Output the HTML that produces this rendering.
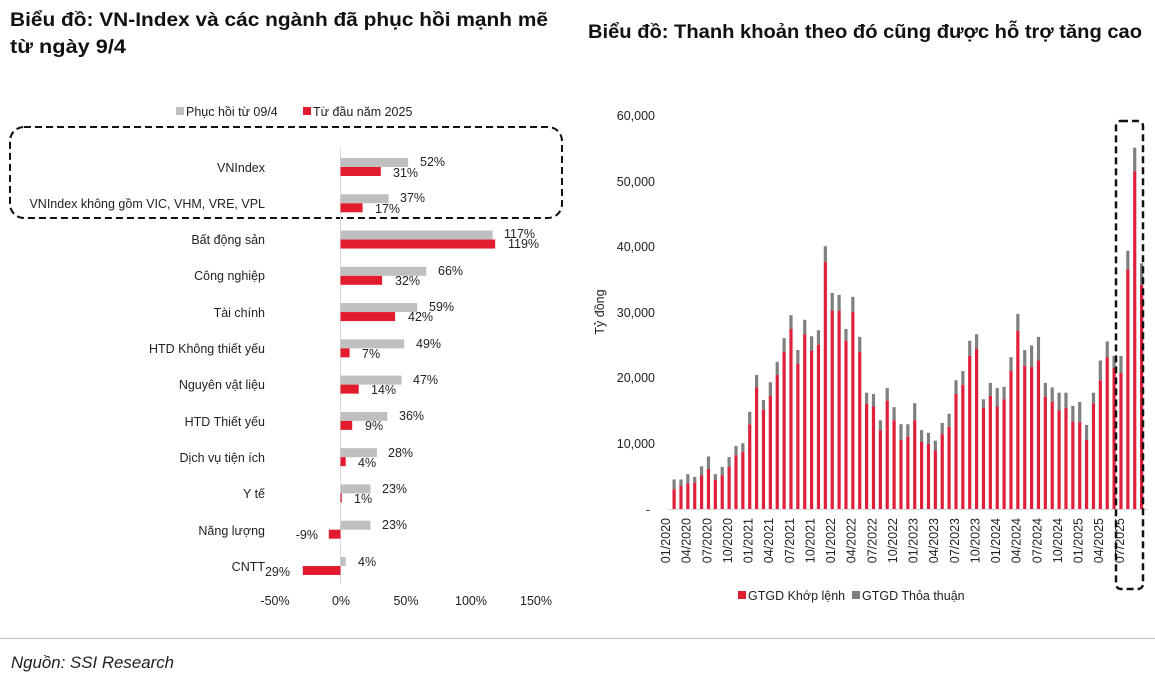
<!DOCTYPE html>
<html><head><meta charset="utf-8"><style>
body{margin:0;background:#fff;}
svg{display:block;font-family:"Liberation Sans",sans-serif;}
</style></head><body>
<svg id="s" width="1155" height="680" viewBox="0 0 1155 680" xmlns="http://www.w3.org/2000/svg">
<rect width="1155" height="680" fill="#fff"/>
<g font-weight="bold" font-size="19" fill="#111">
<text x="10" y="26" textLength="538" lengthAdjust="spacingAndGlyphs">Biểu đồ: VN-Index và các ngành đã phục hồi mạnh mẽ</text>
<text x="10" y="53" textLength="116" lengthAdjust="spacingAndGlyphs">từ ngày 9/4</text>
<text x="588" y="38" textLength="554" lengthAdjust="spacingAndGlyphs">Biểu đồ: Thanh khoản theo đó cũng được hỗ trợ tăng cao</text>
</g>
<!-- left legend -->
<rect x="176" y="107" width="8" height="8" fill="#bfbfbf"/>
<text x="186" y="116" font-size="12.5" fill="#222">Phục hồi từ 09/4</text>
<rect x="303" y="107" width="8" height="8" fill="#e31b2e"/>
<text x="313" y="116" font-size="12.5" fill="#222">Từ đầu năm 2025</text>
<rect x="10" y="127" width="552" height="91" rx="14" fill="none" stroke="#111" stroke-width="2" stroke-dasharray="7,4"/>
<line x1="340.5" y1="148" x2="340.5" y2="584" stroke="#d9d9d9" stroke-width="1"/>
<g id="left"></g>
<g font-size="12.5" fill="#222" text-anchor="end">
<text x="265" y="172">VNIndex</text>
<text x="265" y="208">VNIndex không gồm VIC, VHM, VRE, VPL</text>
<text x="265" y="244">Bất động sản</text>
<text x="265" y="280">Công nghiệp</text>
<text x="265" y="317">Tài chính</text>
<text x="265" y="353">HTD Không thiết yếu</text>
<text x="265" y="389">Nguyên vật liệu</text>
<text x="265" y="426">HTD Thiết yếu</text>
<text x="265" y="462">Dịch vụ tiện ích</text>
<text x="265" y="498">Y tế</text>
<text x="265" y="535">Năng lượng</text>
<text x="265" y="571">CNTT</text>
</g>
<g font-size="12.5" fill="#222">
<text x="420" y="166">52%</text><text x="393" y="177">31%</text>
<text x="400" y="202">37%</text><text x="375" y="213">17%</text>
<text x="504" y="238">117%</text><text x="508" y="248">119%</text>
<text x="438" y="275">66%</text><text x="395" y="285">32%</text>
<text x="429" y="311">59%</text><text x="408" y="321">42%</text>
<text x="416" y="348">49%</text><text x="362" y="358">7%</text>
<text x="413" y="384">47%</text><text x="371" y="394">14%</text>
<text x="399" y="420">36%</text><text x="365" y="430">9%</text>
<text x="388" y="457">28%</text><text x="358" y="467">4%</text>
<text x="382" y="493">23%</text><text x="354" y="503">1%</text>
<text x="382" y="529">23%</text>
<text x="318" y="539" text-anchor="end">-9%</text>
<text x="358" y="566">4%</text>
<text x="290" y="576" text-anchor="end">29%</text>
</g>
<g font-size="12.5" fill="#222" text-anchor="middle">
<text x="275" y="605">-50%</text><text x="341" y="605">0%</text><text x="406" y="605">50%</text><text x="471" y="605">100%</text><text x="536" y="605">150%</text>
</g>
<!-- right chart -->
<g font-size="12.5" fill="#222" text-anchor="end">
<text x="655" y="120">60,000</text><text x="655" y="186">50,000</text><text x="655" y="251">40,000</text><text x="655" y="317">30,000</text><text x="655" y="382">20,000</text><text x="655" y="448">10,000</text><text x="650" y="514">-</text>
</g>
<text transform="translate(604,312) rotate(-90)" font-size="12.5" fill="#222" text-anchor="middle">Tỷ đồng</text>
<line x1="668" y1="509.5" x2="1148" y2="509.5" stroke="#d9d9d9"/>
<g id="right"></g>
<g id="xl" font-size="12.5" fill="#222" text-anchor="end">
<text transform="translate(670,518) rotate(-90)">01/2020</text>
<text transform="translate(690.6,518) rotate(-90)">04/2020</text>
<text transform="translate(711.3,518) rotate(-90)">07/2020</text>
<text transform="translate(731.9,518) rotate(-90)">10/2020</text>
<text transform="translate(752.5,518) rotate(-90)">01/2021</text>
<text transform="translate(773.1,518) rotate(-90)">04/2021</text>
<text transform="translate(793.8,518) rotate(-90)">07/2021</text>
<text transform="translate(814.4,518) rotate(-90)">10/2021</text>
<text transform="translate(835,518) rotate(-90)">01/2022</text>
<text transform="translate(855.6,518) rotate(-90)">04/2022</text>
<text transform="translate(876.3,518) rotate(-90)">07/2022</text>
<text transform="translate(896.9,518) rotate(-90)">10/2022</text>
<text transform="translate(917.5,518) rotate(-90)">01/2023</text>
<text transform="translate(938.1,518) rotate(-90)">04/2023</text>
<text transform="translate(958.8,518) rotate(-90)">07/2023</text>
<text transform="translate(979.4,518) rotate(-90)">10/2023</text>
<text transform="translate(1000,518) rotate(-90)">01/2024</text>
<text transform="translate(1020.6,518) rotate(-90)">04/2024</text>
<text transform="translate(1041.3,518) rotate(-90)">07/2024</text>
<text transform="translate(1061.9,518) rotate(-90)">10/2024</text>
<text transform="translate(1082.5,518) rotate(-90)">01/2025</text>
<text transform="translate(1103.1,518) rotate(-90)">04/2025</text>
<text transform="translate(1123.8,518) rotate(-90)">07/2025</text>
</g>
<rect x="1116" y="121" width="27" height="468" rx="5" fill="none" stroke="#111" stroke-width="2.5" stroke-dasharray="7,4"/>
<rect x="738" y="591" width="8" height="8" fill="#e31b2e"/>
<text x="748" y="600" font-size="12.5" fill="#222">GTGD Khớp lệnh</text>
<rect x="852" y="591" width="8" height="8" fill="#7f7f7f"/>
<text x="862" y="600" font-size="12.5" fill="#222">GTGD Thỏa thuận</text>
<line x1="0" y1="638.5" x2="1155" y2="638.5" stroke="#bfbfbf"/>
<text x="11" y="668" font-size="17" font-style="italic" fill="#222" textLength="163" lengthAdjust="spacingAndGlyphs">Nguồn: SSI Research</text>
</svg>
<script>
var NS="http://www.w3.org/2000/svg";
function R(g,x,y,w,h,c){var r=document.createElementNS(NS,"rect");r.setAttribute("x",x);r.setAttribute("y",y);r.setAttribute("width",w);r.setAttribute("height",h);r.setAttribute("fill",c);g.appendChild(r);}
var L=document.getElementById("left");
var d=[[52,31],[37,17],[117,119],[66,32],[59,42],[49,7],[47,14],[36,9],[28,4],[23,1],[23,-9],[4,-29]];
d.forEach(function(v,i){var c=167+i*36.27;
 var g=v[0]*1.3,r=v[1]*1.3;
 R(L,g>=0?340.5:340.5+g,c-9,Math.abs(g),9,"#bfbfbf");
 R(L,r>=0?340.5:340.5+r,c,Math.abs(r),9,"#e31b2e");});
var T=[4.5,4.5,5.3,4.9,6.5,8.0,5.3,6.4,7.9,9.6,10.0,14.8,20.4,16.6,19.3,22.4,26.0,29.5,24.2,28.8,26.3,27.2,40.0,32.9,32.6,27.4,32.3,26.2,17.7,17.5,13.5,18.4,15.5,12.9,12.9,16.1,12.0,11.6,10.4,13.1,14.5,19.6,21.0,25.6,26.6,16.7,19.2,18.4,18.6,23.1,29.7,24.2,24.9,26.2,19.2,18.5,17.7,17.7,15.7,16.3,12.8,17.7,22.6,25.5,23.3,23.3,39.3,55.0,37.4];
var K=[3.0,3.5,3.9,4.0,5.1,6.1,4.4,5.1,6.4,8.2,8.7,12.9,18.5,15.1,17.2,20.4,23.9,27.4,22.1,26.6,24.1,25.0,37.6,30.2,30.2,25.6,30.0,23.9,16.0,15.6,12.0,16.5,13.5,10.5,11.0,13.5,10.2,9.9,8.9,11.4,12.5,17.5,18.9,23.3,24.4,15.4,17.2,15.6,16.7,21.0,27.1,21.8,21.6,22.6,17.1,16.3,15.0,15.4,13.3,13.2,10.5,16.1,19.6,23.1,21.5,20.7,36.5,51.4,34.1];
var G=document.getElementById("right"),s=6.57;
T.forEach(function(t,i){var x=672.5+i*6.875,k=K[i];
 R(G,x,509-t*s,3.2,(t-k)*s,"#7f7f7f");
 R(G,x,509-k*s,3.2,k*s,"#e0203a");});
</script>
</body></html>
